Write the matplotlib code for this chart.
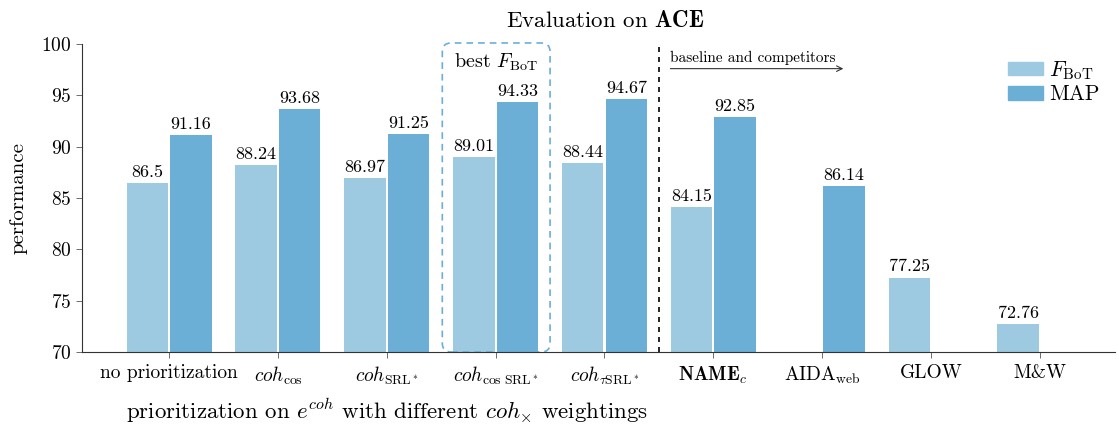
import numpy as np
import matplotlib.pyplot as plt
from matplotlib.patches import FancyBboxPatch, Patch

plt.rcParams['font.family'] = 'serif'
plt.rcParams['font.serif'] = ['cmr10', 'DejaVu Serif']
plt.rcParams['mathtext.fontset'] = 'cm'
plt.rcParams['axes.formatter.use_mathtext'] = True

## Data ##
categories = [
    "no prioritization",
    r"$\mathit{coh}_{\cos}$",
    r"$\mathit{coh}_{\mathrm{SRL}^*}$",
    r"$\mathit{coh}_{\cos\,\mathrm{SRL}^*}$",
    r"$\mathit{coh}_{\tau\mathrm{SRL}^*}$",
    r"$\mathbf{NAME}_c$",
    r"AIDA$_{\mathrm{web}}$",
    "GLOW",
    "M&W",
]
f_bot = [86.5, 88.24, 86.97, 89.01, 88.44, 84.15, np.nan, 77.25, 72.76]
map_vals = [91.16, 93.68, 91.25, 94.33, 94.67, 92.85, 86.14, np.nan, np.nan]

c_f = "#9ecae1"
c_map = "#6baed6"

## Plot ##
fig = plt.figure(figsize=(11.19, 4.28), dpi=100)
ax = fig.add_axes([0.0733, 0.1776, 0.9231, 0.7196])

x = np.arange(len(categories))
w = 0.38
off = 0.2
ax.bar(x - off, f_bot, w, color=c_f, linewidth=0)
ax.bar(x + off, map_vals, w, color=c_map, linewidth=0)

for xi, v in zip(x, f_bot):
    if not np.isnan(v):
        ax.text(xi - off, v + 0.3, f"{v:g}", ha="center", va="bottom", fontsize=13)
for xi, v in zip(x, map_vals):
    if not np.isnan(v):
        ax.text(xi + off, v + 0.3, f"{v:g}", ha="center", va="bottom", fontsize=13)

ax.set_xlim(-0.8, 8.69)
ax.set_ylim(70, 100)
ax.set_yticks([70, 75, 80, 85, 90, 95, 100])
ax.set_xticks(x)
ax.set_xticklabels(categories)
ax.tick_params(axis="both", labelsize=14, length=4, width=0.6, color="#555555")
ax.tick_params(axis="x", pad=5)
for s in ["top", "right"]:
    ax.spines[s].set_visible(False)
for s in ["left", "bottom"]:
    ax.spines[s].set_linewidth(0.8)
    ax.spines[s].set_color("#333333")

ax.set_title(r"Evaluation on $\mathbf{ACE}$", fontsize=16.5, pad=12, x=0.507)
ax.set_ylabel("performance", fontsize=15, labelpad=10)
ax.text(2, -0.19, r"prioritization on $e^{\mathit{coh}}$ with different $\mathit{coh}_{\times}$ weightings",
        transform=ax.get_xaxis_transform(), ha="center", va="center", fontsize=16.5)

# separator and competitors arrow
ax.axvline(4.5, color="black", linestyle=(0, (3, 3)), linewidth=1.2)
ax.annotate("", xy=(6.22, 97.6), xytext=(4.58, 97.6),
            arrowprops=dict(arrowstyle="->", color="#333333", lw=0.8))
ax.text(4.6, 98.0, "baseline and competitors", fontsize=11, ha="left", va="bottom")

# best box
box = FancyBboxPatch((2.51, 70.0), 0.99, 30.1,
                     boxstyle="round,pad=0,rounding_size=0.08",
                     mutation_aspect=10.6, fill=False, edgecolor=c_map,
                     linestyle=(0, (4, 3)), linewidth=1.2, clip_on=False)
ax.add_patch(box)
ax.text(3.0, 98.2, r"best $F_{\mathrm{BoT}}$", ha="center", va="center", fontsize=14.5)

handles = [Patch(color=c_f, label=r"$F_{\mathrm{BoT}}$"), Patch(color=c_map, label="MAP")]
ax.legend(handles=handles, loc="upper right", bbox_to_anchor=(1.0, 1.0), frameon=False,
          fontsize=15.5, handlelength=1.6, handleheight=0.6, handletextpad=0.3,
          labelspacing=0.15, borderaxespad=0.3)

fig.savefig("out.png", dpi=100)
